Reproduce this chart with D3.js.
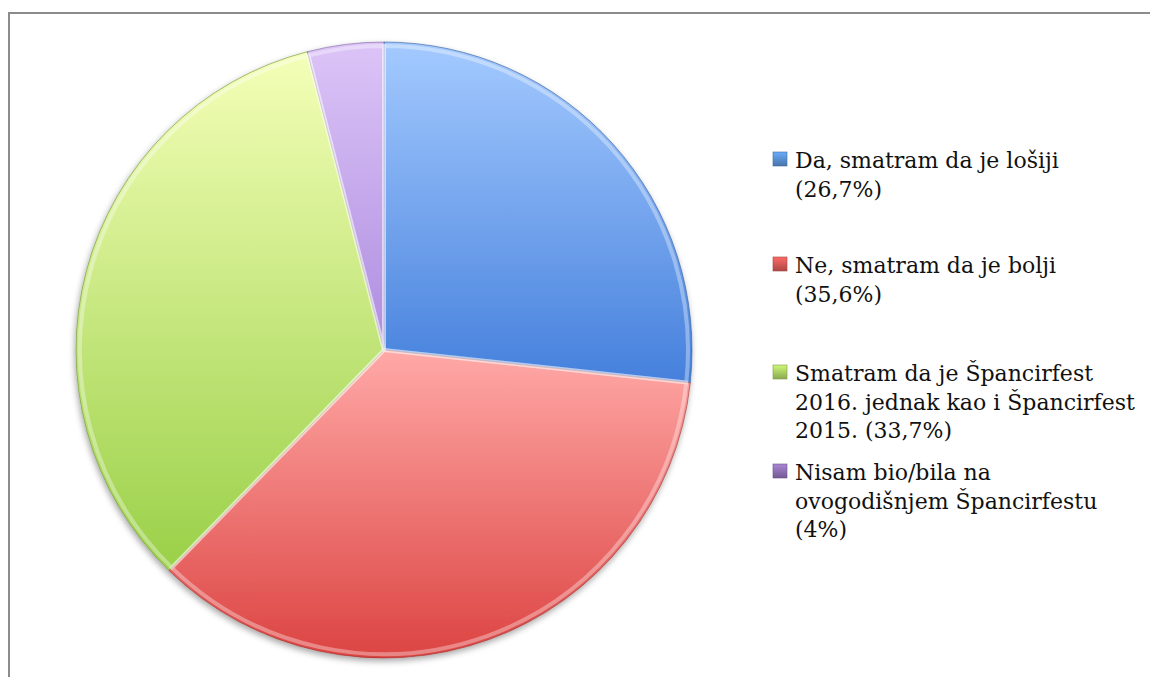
<!DOCTYPE html>
<html lang="hr">
<head>
    <meta charset="UTF-8">
    <script src="https://d3js.org/d3.v7.min.js"></script>
    <style>
        body { margin: 0; background: #fff; }
        svg { display: block; }
    </style>
</head>
<body>
    <svg id="chart" width="1151" height="677"></svg>
    <script>
        // podaci
        const kategorije = ["Da", "Ne", "Jednak", "Nisam bio"];
        const postoci = [26.7, 35.6, 33.7, 4];
        const legendaRedovi = [
            ["Da, smatram da je lošiji", "(26,7%)"],
            ["Ne, smatram da je bolji", "(35,6%)"],
            ["Smatram da je Špancirfest", "2016. jednak kao i Špancirfest", "2015. (33,7%)"],
            ["Nisam bio/bila na", "ovogodišnjem Špancirfestu", "(4%)"]
        ];

        const boje = {
            Da: ["#a4caff", "#4580dc", "#4f81bd"],
            Ne: ["#ffa9a7", "#dc4442", "#c0504d"],
            Jednak: ["#f4ffb8", "#9ad048", "#9bbb59"],
            "Nisam bio": ["#dcc4f7", "#ae8de0", "#8064a2"]
        };

        const width = 1151, height = 677;
        const cx = 384, cy = 350, r = 308;

        const svg = d3.select("#chart");
        const defs = svg.append("defs");

        kategorije.forEach((k, i) => {
            const g = defs.append("linearGradient")
                .attr("id", "grad" + i)
                .attr("x1", 0).attr("y1", 0).attr("x2", 0).attr("y2", 1);
            g.append("stop").attr("offset", "0%").attr("stop-color", boje[k][0]);
            g.append("stop").attr("offset", "100%").attr("stop-color", boje[k][1]);

            const m = defs.append("linearGradient")
                .attr("id", "mark" + i)
                .attr("x1", 0).attr("y1", 0).attr("x2", 0).attr("y2", 1);
            m.append("stop").attr("offset", "0%").attr("stop-color", d3.color(boje[k][2]).brighter(0.8));
            m.append("stop").attr("offset", "100%").attr("stop-color", d3.color(boje[k][2]).darker(0.3));
        });

        const shadow = defs.append("filter").attr("id", "sjena")
            .attr("x", "-10%").attr("y", "-10%").attr("width", "120%").attr("height", "120%");
        shadow.append("feDropShadow")
            .attr("dx", -1).attr("dy", 3).attr("stdDeviation", 3)
            .attr("flood-color", "#000").attr("flood-opacity", 0.35);

        // okvir
        svg.append("path")
            .attr("d", `M9,${height + 5} L9,13 L1150,13`)
            .attr("fill", "none")
            .attr("stroke", "#8c8c8c")
            .attr("stroke-width", 2);

        const pie = d3.pie().sort(null).value(d => d);
        const arcs = pie(postoci);

        const arc = d3.arc().innerRadius(0).outerRadius(r);
        const bevel = d3.arc().innerRadius(0).outerRadius(r - 4);

        const g = svg.append("g").attr("transform", `translate(${cx},${cy})`);

        g.append("g").attr("filter", "url(#sjena)")
            .selectAll("path")
            .data(arcs)
            .enter().append("path")
            .attr("d", arc)
            .attr("fill", (d, i) => `url(#grad${i})`)
            .attr("stroke", (d, i) => d3.color(boje[kategorije[i]][1]).darker(1))
            .attr("stroke-opacity", 0.6)
            .attr("stroke-width", 1);

        // svijetli rub (bevel)
        g.selectAll(".bevel")
            .data(arcs)
            .enter().append("path")
            .attr("class", "bevel")
            .attr("d", bevel)
            .attr("fill", "none")
            .attr("stroke", "#fff")
            .attr("stroke-opacity", 0.35)
            .attr("stroke-width", 4);

        // legenda
        const legend = svg.append("g");
        const lineH = 28.7;
        const prviRed = [168, 273, 381, 480];

        legendaRedovi.forEach((redovi, i) => {
            const y0 = prviRed[i];
            legend.append("rect")
                .attr("x", 773)
                .attr("y", y0 - 16)
                .attr("width", 14)
                .attr("height", 14)
                .attr("fill", `url(#mark${i})`)
                .attr("stroke", d3.color(boje[kategorije[i]][2]).darker(0.5))
                .attr("stroke-width", 0.6);
            const t = legend.append("text")
                .attr("x", 795).attr("y", y0)
                .attr("font-family", "'DejaVu Serif', serif")
                .attr("font-size", 22)
                .attr("fill", "#111");
            redovi.forEach((red, j) => {
                t.append("tspan")
                    .attr("x", 795)
                    .attr("y", y0 + j * lineH)
                    .text(red);
            });
        });
    </script>
</body>
</html>
